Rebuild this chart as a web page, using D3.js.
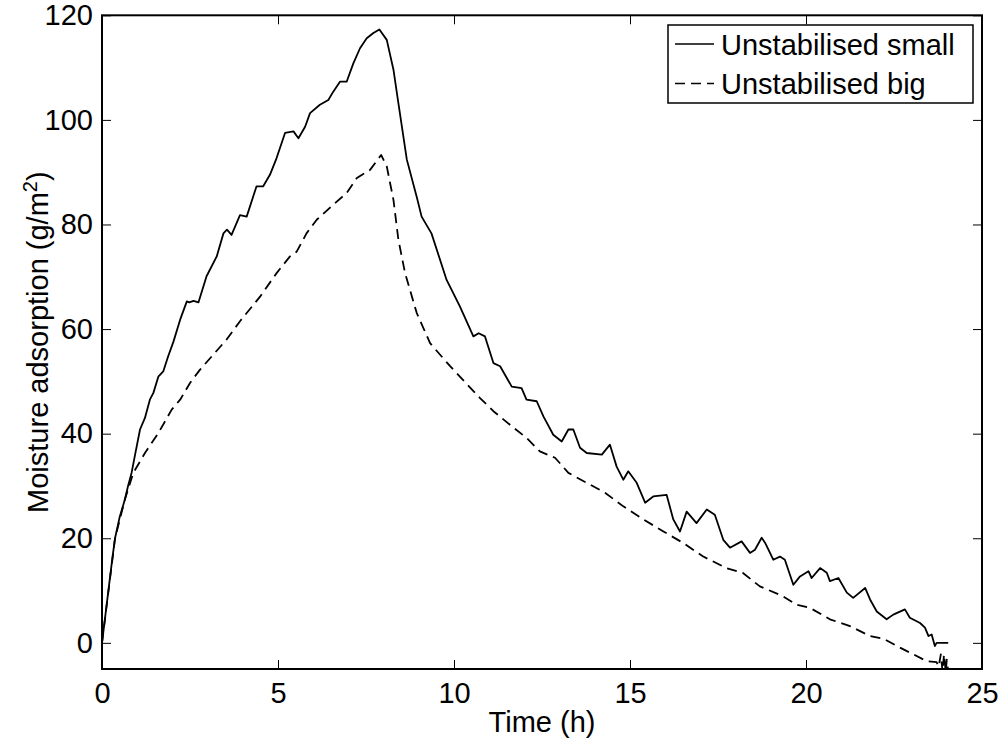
<!DOCTYPE html>
<html>
<head>
<meta charset="utf-8">
<script src="https://cdn.jsdelivr.net/npm/d3@7"></script>
<style>
  body { margin: 0; background: #fff; }
  svg text { font-family: "Liberation Sans", Arial, Helvetica, sans-serif; fill: #000; }
</style>
</head>
<body>
<div id="chart"></div>
<script>
// values
var smallTime = [0, 0.1, 0.2, 0.3, 0.37, 0.5, 0.65, 0.74, 0.84, 0.94, 1.08, 1.22, 1.36, 1.46, 1.6, 1.74, 1.88, 2.03, 2.22, 2.41, 2.48, 2.6, 2.74, 2.97, 3.26, 3.45, 3.55, 3.68, 3.92, 4.11, 4.39, 4.58, 4.77, 4.96, 5.2, 5.44, 5.58, 5.77, 5.91, 6.19, 6.43, 6.57, 6.76, 6.95, 7.14, 7.33, 7.52, 7.71, 7.88, 8.09, 8.28, 8.42, 8.66, 8.94, 9.08, 9.36, 9.79, 10.17, 10.55, 10.7, 10.88, 11.12, 11.31, 11.64, 11.92, 12.06, 12.35, 12.54, 12.82, 13.06, 13.25, 13.39, 13.58, 13.77, 14.2, 14.43, 14.62, 14.81, 14.95, 15.19, 15.43, 15.66, 16.04, 16.23, 16.42, 16.61, 16.89, 17.18, 17.41, 17.65, 17.84, 18.17, 18.41, 18.55, 18.74, 18.84, 19.07, 19.26, 19.4, 19.64, 19.83, 20.07, 20.16, 20.4, 20.59, 20.68, 20.92, 21.16, 21.34, 21.68, 21.82, 22.01, 22.29, 22.48, 22.81, 22.95, 23.24, 23.38, 23.48, 23.57, 23.66, 23.71, 24.04];
var smallValue = [0, 5.5, 11, 16.5, 20, 24, 27.4, 30, 32.5, 36, 40.8, 43, 46.5, 47.8, 50.9, 51.9, 54.8, 57.6, 61.8, 65.3, 65.1, 65.4, 65.1, 70.1, 73.9, 78.3, 79, 78, 81.8, 81.5, 87.3, 87.3, 89.5, 92.7, 97.5, 97.8, 96.5, 98.7, 101.3, 102.9, 103.8, 105.4, 107.3, 107.3, 110.8, 113.7, 115.6, 116.6, 117.3, 115.3, 109.6, 103.2, 92.4, 85.3, 81.5, 78.3, 69.4, 64.3, 58.6, 59.2, 58.6, 53.5, 52.9, 49, 48.7, 46.5, 46.2, 43.3, 39.8, 38.5, 40.8, 40.8, 37.3, 36.3, 36, 37.9, 33.7, 31.2, 32.8, 30.6, 26.8, 28, 28.3, 23.6, 21.3, 25.1, 22.9, 25.5, 24.5, 19.7, 18.2, 19.4, 17.2, 17.8, 20.1, 19.1, 15.9, 16.5, 15.9, 11.1, 12.7, 13.7, 12.4, 14.3, 13.4, 11.8, 12.4, 9.6, 8.6, 10.5, 8.3, 6, 4.5, 5.4, 6.4, 4.8, 3.8, 2.9, 1.3, 1.6, -0.6, 0, 0];

var bigTime = [0, 0.37, 0.65, 0.89, 1.22, 1.6, 1.98, 2.22, 2.5, 2.78, 3.16, 3.54, 3.92, 4.49, 4.96, 5.34, 5.53, 5.81, 6.1, 6.57, 6.95, 7.24, 7.61, 7.93, 8.09, 8.28, 8.42, 8.61, 8.94, 9.32, 9.89, 10.74, 11.12, 11.59, 12.06, 12.44, 12.87, 13.25, 13.77, 14.29, 14.81, 15.38, 15.95, 16.51, 17.08, 17.74, 18.2, 18.69, 19.35, 19.73, 20.11, 20.68, 21.25, 21.82, 22.2, 22.58, 23.05, 23.43, 23.71, 23.77, 23.83, 23.88, 23.92, 23.97, 24.0, 24.04];
var bigValue = [0, 20, 27.4, 32.5, 36.3, 40.1, 44.6, 46.5, 49.7, 52.2, 55.1, 58, 61.5, 66.2, 70.7, 73.9, 74.8, 78.3, 80.9, 83.8, 86, 88.9, 90.4, 93.3, 91.1, 84.7, 77.1, 70.7, 63.1, 57.3, 52.9, 46.8, 44.3, 41.7, 39.2, 36.6, 35.4, 32.5, 30.6, 28.7, 26.1, 23.6, 21.3, 19.1, 16.5, 14.3, 13.4, 10.8, 8.9, 7.3, 6.7, 4.5, 3.2, 1.3, 0.8, -0.6, -2.2, -3.5, -3.7, -4.5, -2.2, -5.5, -2.2, -5.5, -3.2, -5.5];

var xTicks = [0, 5, 10, 15, 20, 25];
var yTicks = [0, 20, 40, 60, 80, 100, 120];
var seriesNames = ["Unstabilised small", "Unstabilised big"];

var width = 998,
    height = 743,
    plotLeft = 102,
    plotTop = 15.3,
    plotRight = 982,
    plotBottom = 669,
    tickLen = 9,
    fontSize = 29;

var x = d3.scaleLinear().domain([0, 25]).range([plotLeft, plotRight]);
var y = d3.scaleLinear().domain([-5, 120]).range([plotBottom, plotTop]);

var svg = d3.select("#chart").append("svg")
    .attr("width", width)
    .attr("height", height);

svg.append("defs").append("clipPath")
    .attr("id", "plotclip")
    .append("rect")
    .attr("x", plotLeft).attr("y", plotTop)
    .attr("width", plotRight - plotLeft).attr("height", plotBottom - plotTop);

var line = d3.line()
    .x(function(d) { return x(d[0]); })
    .y(function(d) { return y(d[1]); });

var series = [
    { name: seriesNames[0], data: d3.zip(smallTime, smallValue), dash: null },
    { name: seriesNames[1], data: d3.zip(bigTime, bigValue), dash: "10,6" }
];

var plot = svg.append("g").attr("clip-path", "url(#plotclip)");

plot.selectAll("path.series")
    .data(series)
    .enter().append("path")
    .attr("class", "series")
    .attr("d", function(d) { return line(d.data); })
    .attr("fill", "none")
    .attr("stroke", "#000")
    .attr("stroke-width", 1.8)
    .attr("stroke-linejoin", "round")
    .attr("stroke-dasharray", function(d) { return d.dash; });

// axes, ticks pointing inwards on all four sides
var axisStyle = function(g) {
    g.select(".domain").remove();
    g.selectAll(".tick line").attr("stroke", "#000").attr("stroke-width", 1);
    g.selectAll(".tick text").style("font-size", fontSize + "px");
};

svg.append("g")
    .attr("transform", "translate(0," + plotBottom + ")")
    .call(d3.axisBottom(x).tickValues(xTicks).tickSizeInner(-tickLen).tickPadding(13).tickFormat(d3.format("d")))
    .call(axisStyle);

svg.append("g")
    .attr("transform", "translate(0," + plotTop + ")")
    .call(d3.axisTop(x).tickValues(xTicks).tickSizeInner(-tickLen).tickFormat(""))
    .call(axisStyle);

svg.append("g")
    .attr("transform", "translate(" + plotLeft + ",0)")
    .call(d3.axisLeft(y).tickValues(yTicks).tickSizeInner(-tickLen).tickPadding(9).tickFormat(d3.format("d")))
    .call(axisStyle);

svg.append("g")
    .attr("transform", "translate(" + plotRight + ",0)")
    .call(d3.axisRight(y).tickValues(yTicks).tickSizeInner(-tickLen).tickFormat(""))
    .call(axisStyle);

svg.append("rect")
    .attr("x", plotLeft).attr("y", plotTop)
    .attr("width", plotRight - plotLeft).attr("height", plotBottom - plotTop)
    .attr("fill", "none")
    .attr("stroke", "#000")
    .attr("stroke-width", 2);

// axis labels
svg.append("text")
    .attr("x", (plotLeft + plotRight) / 2)
    .attr("y", 732)
    .attr("text-anchor", "middle")
    .style("font-size", fontSize + "px")
    .text("Time (h)");

var yl = svg.append("text")
    .attr("transform", "translate(48," + ((plotTop + plotBottom) / 2) + ") rotate(-90)")
    .attr("text-anchor", "middle")
    .style("font-size", fontSize + "px");
yl.append("tspan").text("Moisture adsorption (g/m");
yl.append("tspan").attr("dy", -11).style("font-size", "20px").text("2");
yl.append("tspan").attr("dy", 11).text(")");

// legend
var legend = svg.append("g");
legend.append("rect")
    .attr("x", 668).attr("y", 25)
    .attr("width", 973 - 668).attr("height", 103 - 25)
    .attr("fill", "#fff")
    .attr("stroke", "#000")
    .attr("stroke-width", 1.5);

var entry = legend.selectAll("g.entry")
    .data(series)
    .enter().append("g")
    .attr("class", "entry")
    .attr("transform", function(d, i) { return "translate(0," + (i * 39.5) + ")"; });

entry.append("line")
    .attr("x1", 675).attr("x2", 714)
    .attr("y1", 44).attr("y2", 44)
    .attr("stroke", "#000")
    .attr("stroke-width", 1.6)
    .attr("stroke-dasharray", function(d) { return d.dash; });

entry.append("text")
    .attr("x", 721)
    .attr("y", 54.5)
    .style("font-size", fontSize + "px")
    .text(function(d) { return d.name; });
</script>
</body>
</html>
